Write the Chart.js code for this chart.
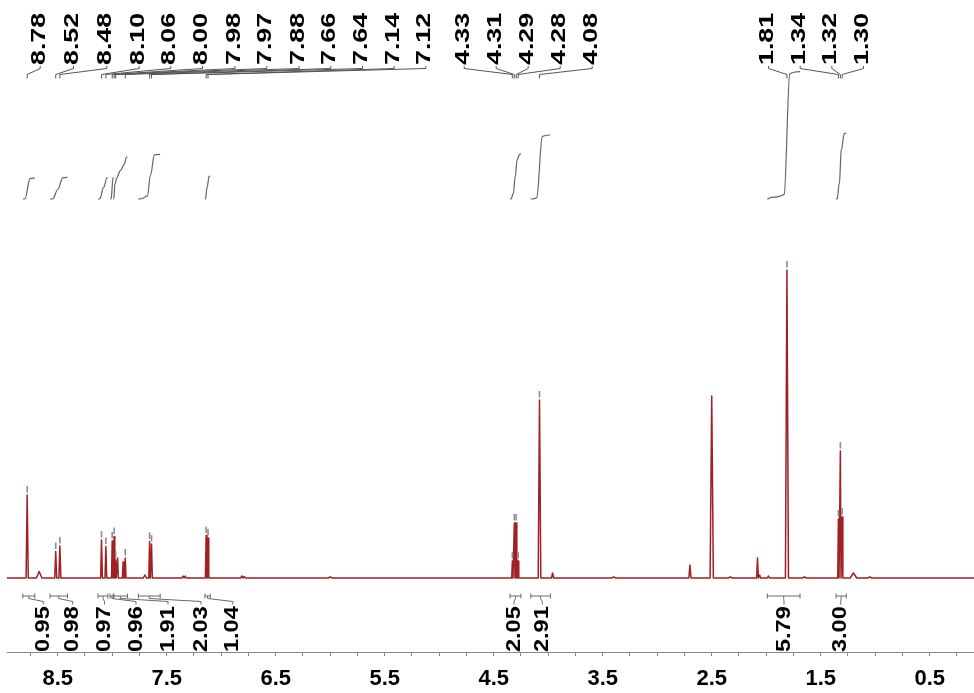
<!DOCTYPE html>
<html><head><meta charset="utf-8">
<script src="https://cdn.jsdelivr.net/npm/chart.js@4.4.1/dist/chart.umd.min.js"></script>
<style>html,body{margin:0;padding:0;background:#fff;overflow:hidden}canvas{display:block}</style>
</head><body>
<canvas id="c" width="974" height="693"></canvas>
<script>
// ---------- data (ppm / intensity) ----------
const xRangePpm = [0.094, 8.965];
const tickValues = [8.75,8.5,8.25,8.0,7.75,7.5,7.25,7.0,6.75,6.5,6.25,6.0,5.75,5.5,5.25,5.0,4.75,4.5,4.25,4.0,3.75,3.5,3.25,3.0,2.75,2.5,2.25,2.0,1.75,1.5,1.25,1.0,0.75,0.5,0.25];
const tickLabels = ['8.5','7.5','6.5','5.5','4.5','3.5','2.5','1.5','0.5'];

// labelled (picked) peaks
const labeledPeakPpm    = [8.780, 8.518, 8.480, 8.098, 8.058, 8.000, 7.982, 7.968, 7.880, 7.657, 7.639, 7.138, 7.121, 4.329, 4.311, 4.294, 4.276, 4.080, 1.810, 1.338, 1.320, 1.303];
const labeledPeakHeight = [83,    26.5,  32,    38,    31.5,  37,    41.5,  18,    20,    36.5,  34,    42.5,  40,    17,    55,    55,    17,    178,   308,   59,    127,   61];
const labeledPeakWidth  = [0.010, 0.009, 0.009, 0.008, 0.008, 0.006, 0.006, 0.005, 0.007, 0.007, 0.007, 0.007, 0.007, 0.006, 0.006, 0.006, 0.006, 0.012, 0.014, 0.006, 0.006, 0.006];

// small unlabelled peaks / shoulders
const minorPeakPpm    = [8.67, 7.950, 7.900, 7.70, 7.35, 7.33, 6.81, 6.79, 6.00, 3.96, 3.40, 2.70, 2.50, 2.33, 2.08, 2.06, 1.98, 1.65, 1.20, 1.05];
const minorPeakHeight = [6.5,  20,    16,    3,    2,    2,    2,    1.5,  1,    5,    1,    13,   182,  1,    20,   3,    2,    1,    5,    1];
const minorPeakWidth  = [0.025,0.006, 0.006, 0.015,0.010,0.010,0.012,0.012,0.020,0.010,0.020,0.010,0.015,0.020,0.008,0.008,0.010,0.020,0.030,0.020];

// integrals
const integralFrom  = [8.82, 8.57, 8.13, 8.02,  7.99, 7.76, 7.15, 4.35, 4.16, 1.99, 1.36];
const integralTo    = [8.71, 8.41, 8.04, 7.985, 7.86, 7.56, 7.10, 4.25, 3.98, 1.69, 1.265];
const integralValue = [0.95, 0.98, 0.97, 0.96,  1.91, 2.03, 1.04, 2.05, 2.91, 5.79, 3.00];

// ---------- layout (annotation placement, px) ----------
const peakLabelX = [37.7, 71, 104.3, 136.7, 168.3, 200, 232.5, 264.3, 296.7, 328.3, 360, 391.7, 423.3,
                    461.7, 493.7, 525.7, 557.7, 589.7,
                    766, 797.7, 829.3, 861];
const integralLabelX = [41.3, 70.7, 102.5, 134, 166, 199, 230.8, 512, 540.3, 782, 838.7];

// ---------- build spectrum trace ----------
const peaks = labeledPeakPpm.map((p,i)=>({p, h:labeledPeakHeight[i], w:labeledPeakWidth[i]}))
  .concat(minorPeakPpm.map((p,i)=>({p, h:minorPeakHeight[i], w:minorPeakWidth[i]})))
  .sort((a,b)=>b.p-a.p);
const trace = [{x:xRangePpm[1], y:0}];
peaks.forEach(pk=>{
  const last = trace[trace.length-1];
  if (pk.p + pk.w >= last.x) {
    last.x = (trace[trace.length-2].x + pk.p)/2;
  } else {
    trace.push({x:pk.p+pk.w, y:0});
  }
  trace.push({x:pk.p, y:pk.h}, {x:pk.p-pk.w, y:0});
});
trace.push({x:xRangePpm[0], y:0});

// ---------- integral curves (cumulative over the peaks of each region) ----------
const integralSets = integralValue.map((v,i)=>{
  const from = integralFrom[i], to = integralTo[i];
  const inside = peaks.filter(pk=>pk.p<=from && pk.p>=to);
  const total = inside.reduce((s,pk)=>s+pk.h,0);
  const yAt = (x, c)=> v*(0.06*(from-x)/(from-to) + 0.94*c);
  const pts = [{x:from, y:0}];
  let cum = 0;
  inside.forEach((pk,k)=>{
    const prevP = k ? inside[k-1].p : from;
    const nextP = k < inside.length-1 ? inside[k+1].p : to;
    const dl = Math.min(0.025, (prevP-pk.p)*0.47);
    const dr = Math.min(0.025, (pk.p-nextP)*0.47);
    const share = pk.h/total;
    pts.push({x:pk.p+dl, y:yAt(pk.p+dl, cum)}, {x:pk.p-dr, y:yAt(pk.p-dr, cum+share)});
    cum += share;
  });
  pts.push({x:to, y:v});
  return {
    type:'scatter', showLine:true, data:pts, yAxisID:'yInt',
    borderColor:'rgb(100,100,100)', borderWidth:1.2, pointRadius:0,
    cubicInterpolationMode:'monotone'
  };
});

// ---------- annotation plugin ----------
function drawRotated(ctx, text, x, yStart, size, stretch){
  ctx.save();
  ctx.translate(x, yStart);
  ctx.rotate(-Math.PI/2);
  ctx.scale(stretch, 1);
  ctx.font = 'bold ' + size + 'px "Liberation Sans", Arial, sans-serif';
  ctx.textAlign = 'left';
  ctx.textBaseline = 'alphabetic';
  ctx.fillStyle = '#000';
  ctx.fillText(text, 0, 0.716*size/2);
  ctx.restore();
}

const nmrAnnotations = {
  id:'nmrAnnotations',
  afterDatasetsDraw(chart){
    const ctx = chart.ctx, xs = chart.scales.x, ys = chart.scales.y;
    // peak labels + connectors + markers
    labeledPeakPpm.forEach((p,i)=>{
      const lx = peakLabelX[i];
      const px = xs.getPixelForValue(p);
      drawRotated(ctx, p.toFixed(2), lx, 65, 20, 1.34);
      ctx.save();
      ctx.strokeStyle = 'rgb(85,85,85)'; ctx.lineWidth = 1;
      ctx.beginPath();
      ctx.moveTo(lx+2.5, 66); ctx.lineTo(lx+2.5, 68.5);
      ctx.lineTo(px, 74.5); ctx.lineTo(px, 78.5);
      ctx.stroke();
      const top = ys.getPixelForValue(labeledPeakHeight[i]);
      ctx.strokeStyle = 'rgb(140,140,140)'; ctx.lineWidth = 1.6;
      ctx.beginPath(); ctx.moveTo(px, top-9); ctx.lineTo(px, top-2.5); ctx.stroke();
      ctx.restore();
    });
    // integral brackets + labels
    integralValue.forEach((v,i)=>{
      const x1 = xs.getPixelForValue(integralFrom[i]);
      const x2 = xs.getPixelForValue(integralTo[i]);
      const mid = (x1+x2)/2, lx = integralLabelX[i];
      ctx.save();
      ctx.strokeStyle = 'rgb(105,105,105)'; ctx.lineWidth = 1;
      ctx.beginPath();
      ctx.moveTo(x1, 596); ctx.lineTo(x2, 596);
      ctx.moveTo(x1, 593.5); ctx.lineTo(x1, 598.5);
      ctx.moveTo(x2, 593.5); ctx.lineTo(x2, 598.5);
      ctx.moveTo(mid, 596); ctx.lineTo(mid, 598.5);
      ctx.lineTo(lx+2, 601.5); ctx.lineTo(lx+2, 604.5);
      ctx.stroke();
      ctx.restore();
      drawRotated(ctx, v.toFixed(2), lx, 652, 21, 1.12);
    });
  }
};

new Chart(document.getElementById('c'), {
  type:'scatter',
  data:{
    datasets:[{
      type:'scatter', showLine:true, data:trace, yAxisID:'y',
      borderColor:'rgb(160,32,36)', borderWidth:1.5, pointRadius:0,
      borderJoinStyle:'round', tension:0
    }].concat(integralSets)
  },
  options:{
    responsive:false, animation:false, devicePixelRatio:1,
    layout:{padding:{left:7, right:0, top:0, bottom:0}},
    plugins:{legend:{display:false}, tooltip:{enabled:false}},
    scales:{
      x:{
        type:'linear', reverse:true, min:xRangePpm[0], max:xRangePpm[1],
        afterBuildTicks:(s)=>{ s.ticks = tickValues.map(v=>({value:v})); },
        afterFit:(s)=>{ s.height = 41; },
        grid:{drawOnChartArea:false, drawTicks:true, tickLength:4, tickColor:'#8a8a8a', tickWidth:1},
        border:{display:true, color:'#8a8a8a', width:1},
        ticks:{
          autoSkip:false, maxRotation:0, padding:10, color:'#000',
          font:{family:'"Liberation Sans", Arial, sans-serif', size:22, weight:'bold'},
          callback:(value)=>{ const l = tickLabels.find(t=>Math.abs(parseFloat(t)-value)<1e-6); return l || ''; }
        }
      },
      y:{type:'linear', display:false, min:-74, max:578},
      yInt:{type:'linear', display:false, min:-20.59, max:9.045}
    }
  },
  plugins:[nmrAnnotations]
});
</script>
</body></html>
